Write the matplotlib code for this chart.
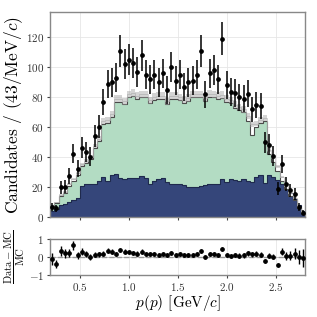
import numpy as np
import matplotlib
matplotlib.use("Agg")
import matplotlib.pyplot as plt

plt.rcParams['font.family'] = 'serif'
plt.rcParams['font.serif'] = ['cmr10', 'DejaVu Serif']
plt.rcParams['mathtext.fontset'] = 'cm'
plt.rcParams['axes.formatter.use_mathtext'] = True

# 60 bins of 43 MeV/c between 0.2 and 2.8 GeV/c
edges = np.linspace(0.2, 2.8, 61)

data = [7, 6, 20, 20.5, 27.5, 42.5, 32.5, 46.5, 43.5, 40.5,
        54, 60.5, 77, 89, 90, 93, 111, 102, 105, 103,
        97, 108, 95, 92, 95, 90, 96, 85, 100, 91,
        95, 87, 90, 91, 95, 111, 82, 96, 98, 92,
        119, 88, 83.5, 83, 80, 79, 82.5, 72, 75, 74,
        50, 48.5, 41, 19, 35.5, 22, 18, 15.5, 7, 3.3]

# navy component (bottom of the stack)
bkg = [4.5, 5.5, 8, 9, 10.5, 11.5, 13, 21, 22, 22,
       22.5, 24, 27, 24.5, 28, 29, 26, 25.5, 26.5, 26,
       26.5, 27.5, 26.5, 22.5, 24.5, 25.5, 26.5, 23.5, 22.5, 22.5,
       22, 21.5, 20, 20.5, 20.5, 21, 21.5, 22, 22, 22.5,
       25.5, 23.5, 25.5, 25, 24, 25.5, 24, 23.5, 27, 28,
       23, 28, 27, 25, 22, 19, 16, 12, 8.5, 4.5]

# top of the green component (navy + green)
green_top = [7.5, 9.5, 14, 16, 21, 24, 28, 34, 36, 39,
             46, 51, 62, 63, 67, 77, 77, 75.5, 80, 81,
             79, 80, 80, 76, 78.5, 79, 79, 75.5, 79, 79,
             78, 76.5, 77.5, 80, 80, 80, 77.5, 80.5, 80, 79,
             79.5, 77, 76, 73, 71.5, 70, 64.5, 55, 60, 63,
             64, 42, 37, 31, 24, 19, 14.5, 11.5, 6, 3]

# small white component on top
other = [0.5, 0.5, 1, 1, 1, 1.5, 1.5, 1.5, 1.5, 1.5,
         1.5, 1.5, 2, 2, 2, 2, 2, 2, 2, 2,
         2, 2, 2, 2, 2, 2, 2, 2, 2, 2,
         2, 2, 2, 2, 2, 2, 2, 2, 2, 2,
         2, 2, 2, 2, 2, 2, 3, 7, 2.5, 2,
         2, 3, 3, 3, 3, 2, 2, 1.5, 1, 0.5]

mc_rel_err = 0.03

bkg = np.array(bkg)
sig = np.array(green_top) - bkg
other = np.array(other)
data = np.array(data)
total = bkg + sig + other
centers = 0.5 * (edges[1:] + edges[:-1])

navy = '#35467a'
green = '#b3dcc3'
edge_col = '#4a4a4a'

fig = plt.figure(figsize=(3.17, 3.17), dpi=100)
ax = fig.add_axes([0.158, 0.314, 0.805, 0.649])
rax = fig.add_axes([0.158, 0.1334, 0.805, 0.1111], sharex=ax)

ax.stairs(bkg, edges, baseline=0, fill=True, color=navy)
ax.stairs(bkg + sig, edges, baseline=bkg, fill=True, color=green)
ax.stairs(total, edges, baseline=bkg + sig, fill=True, color='white')
ax.stairs(bkg, edges, baseline=None, color='#1f2a4d', lw=0.8)
ax.stairs(bkg + sig, edges, baseline=None, color=edge_col, lw=0.8)
ax.stairs(total, edges, baseline=None, color='#c0c0c0', lw=0.5)
ax.stairs(total * (1 + mc_rel_err), edges, baseline=total * (1 - mc_rel_err),
          fill=True, color='#a0a0a0', alpha=0.45, lw=0)

ax.errorbar(centers, data, yerr=np.sqrt(data), fmt='o', ms=2.4, color='black',
            elinewidth=1.1, capsize=0, zorder=5)

ax.set_xlim(0.2, 2.8)
ax.set_ylim(0, 137)
ax.set_yticks([0, 20, 40, 60, 80, 100, 120])
ax.set_ylabel('Candidates / (43/MeV/$c$)', fontsize=12.5)
ax.yaxis.set_label_coords(-0.1, 0.5)
ax.grid(True, color='#e6e6e6', lw=0.6)
ax.set_axisbelow(True)
plt.setp(ax.get_xticklabels(), visible=False)

ratio = (data - total) / total
ratio_err = np.sqrt(data) / total
rax.stairs(np.full(len(total), mc_rel_err), edges, baseline=-mc_rel_err,
           fill=True, color='#b0b0b0', alpha=0.6, lw=0)
rax.axhline(0, color='#999999', lw=1.0, ls='--')
rax.errorbar(centers, ratio, yerr=ratio_err, fmt='o', ms=2.4, color='black',
             elinewidth=1.0, capsize=0, zorder=5)
rax.set_ylim(-1, 1)
rax.set_yticks([-1, 0, 1])
rax.set_xticks([0.5, 1.0, 1.5, 2.0, 2.5])
rax.set_xlabel(r'$p(p)$ [GeV/$c$]', fontsize=11, labelpad=0)
rax.set_ylabel(r'$\frac{\mathrm{Data}-\mathrm{MC}}{\mathrm{MC}}$', fontsize=11)
rax.yaxis.set_label_coords(-0.09, 0.5)
rax.grid(True, color='#e6e6e6', lw=0.6)
rax.set_axisbelow(True)

for a in (ax, rax):
    for s in a.spines.values():
        s.set_color('#888888')
        s.set_linewidth(1.0)
    a.tick_params(colors='#444444', labelcolor='#333333', labelsize=8,
                  length=2.5, width=0.8, pad=2)

fig.savefig('out.png', dpi=100)
